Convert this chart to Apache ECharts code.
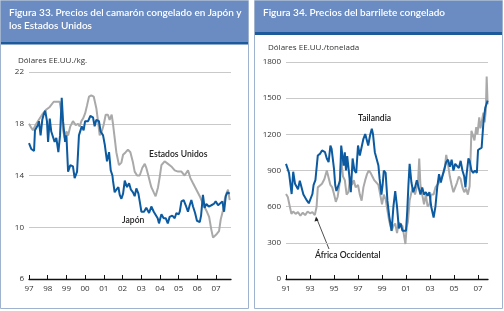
<!DOCTYPE html>
<html><head><meta charset="utf-8">
<script src="https://cdn.jsdelivr.net/npm/echarts@6/dist/echarts.min.js"></script>
<style>html,body{margin:0;padding:0;background:#fff}#c{width:504px;height:311px}</style>
</head><body><div id="c"></div>
<script>
// ---- Figure 33: shrimp prices (US$/kg), decimal year / value
const shrimpYearTicks = [1997,1998,1999,2000,2001,2002,2003,2004,2005,2006,2007];
const shrimpYTicks = [6,10,14,18,22];
const japanT = [1997.00,1997.12,1997.27,1997.32,1997.48,1997.53,1997.62,1997.71,1997.80,1997.87,1997.96,1998.02,1998.11,1998.19,1998.28,1998.37,1998.46,1998.57,1998.66,1998.75,1998.82,1998.93,1999.00,1999.09,1999.21,1999.35,1999.44,1999.57,1999.67,1999.76,1999.82,1999.92,2000.00,2000.16,2000.28,2000.42,2000.51,2000.60,2000.74,2000.83,2000.96,2001.05,2001.14,2001.17,2001.28,2001.37,2001.46,2001.49,2001.58,2001.67,2001.78,2001.85,2001.94,2002.03,2002.12,2002.24,2002.35,2002.45,2002.56,2002.65,2002.74,2002.85,2002.92,2003.01,2003.15,2003.27,2003.42,2003.54,2003.67,2003.77,2003.88,2003.95,2004.08,2004.20,2004.31,2004.42,2004.52,2004.66,2004.79,2004.88,2005.00,2005.06,2005.15,2005.27,2005.38,2005.50,2005.59,2005.68,2005.77,2005.88,2005.98,2006.13,2006.20,2006.30,2006.39,2006.48,2006.61,2006.75,2006.88,2006.98,2007.11,2007.20,2007.34,2007.43,2007.52,2007.61,2007.73];
const japanV = [16.5,16.05,15.9,17.5,17.9,18.2,17.1,18.3,18.8,19.0,18.2,16.6,18.4,17.4,17.0,16.6,16.9,15.8,17.1,20.0,18.2,16.6,17.1,14.3,14.8,14.7,13.8,14.3,17.1,17.1,17.8,17.5,18.2,18.2,18.6,18.5,17.8,18.3,18.2,17.4,17.1,16.4,16.5,15.1,15.8,14.4,14.0,13.6,12.7,12.9,13.1,12.5,12.2,12.6,13.6,13.1,13.4,12.9,12.7,12.4,13.0,12.6,12.0,11.2,11.2,11.5,11.1,11.6,11.2,11.1,10.7,10.3,11.0,10.7,10.7,10.3,10.8,10.9,10.7,11.1,11.0,11.2,12.0,12.1,11.7,11.2,11.7,12.1,11.6,11.1,10.5,10.4,10.9,12.5,11.5,11.8,11.6,11.7,11.8,12.0,11.7,11.6,12.0,11.2,12.4,12.7,12.6];
const usaT = [1997.00,1997.12,1997.21,1997.39,1997.57,1997.75,1997.93,1998.11,1998.32,1998.46,1998.64,1998.73,1998.82,1998.91,1999.00,1999.09,1999.21,1999.35,1999.50,1999.62,1999.71,1999.80,1999.89,2000.00,2000.10,2000.21,2000.33,2000.46,2000.55,2000.60,2000.69,2000.78,2000.89,2000.99,2001.10,2001.22,2001.31,2001.42,2001.49,2001.58,2001.67,2001.81,2001.94,2002.03,2002.17,2002.29,2002.42,2002.56,2002.65,2002.78,2002.92,2003.06,2003.19,2003.27,2003.38,2003.45,2003.54,2003.67,2003.77,2003.90,2003.99,2004.08,2004.25,2004.34,2004.43,2004.61,2004.79,2004.97,2005.15,2005.32,2005.50,2005.63,2005.77,2005.95,2006.13,2006.30,2006.48,2006.63,2006.75,2006.84,2006.93,2007.05,2007.16,2007.25,2007.37,2007.46,2007.55,2007.64,2007.73];
const usaV = [18.0,17.7,17.5,18.0,18.4,18.8,19.1,19.3,19.7,19.7,19.7,18.9,17.5,16.9,17.4,17.1,17.8,18.2,17.9,18.0,17.8,18.2,18.4,18.8,19.4,20.1,20.2,20.1,20.0,19.2,18.2,17.1,17.4,17.9,18.7,18.7,18.3,18.7,18.0,16.9,15.8,14.8,15.0,15.6,15.8,16.0,15.8,15.0,14.3,14.0,14.0,14.6,14.9,14.6,14.0,13.6,13.1,12.7,12.4,13.1,13.9,14.8,15.1,15.2,14.9,14.7,14.4,14.3,14.3,14.0,14.4,13.8,13.4,12.9,12.4,11.8,11.3,10.8,9.8,9.2,9.2,9.5,9.7,10.6,11.3,12.1,12.6,12.9,12.1];

// ---- Figure 34: skipjack prices (US$/tonne)
const tunaYearTicks = [1991,1993,1995,1997,1999,2001,2003,2005,2007];
const tunaYTicks = [0,300,600,900,1200,1500,1800];
const thaiT = [1991.00,1991.10,1991.25,1991.47,1991.60,1991.75,1991.90,1992.00,1992.15,1992.30,1992.45,1992.60,1992.75,1992.90,1993.05,1993.20,1993.30,1993.45,1993.55,1993.65,1993.85,1994.00,1994.10,1994.25,1994.40,1994.55,1994.70,1994.80,1994.90,1995.00,1995.10,1995.20,1995.35,1995.50,1995.60,1995.70,1995.80,1995.90,1996.00,1996.10,1996.25,1996.40,1996.55,1996.70,1996.85,1997.00,1997.15,1997.30,1997.45,1997.60,1997.75,1997.85,1998.00,1998.15,1998.25,1998.40,1998.55,1998.70,1998.80,1998.95,1999.05,1999.15,1999.30,1999.45,1999.60,1999.80,1999.95,2000.10,2000.25,2000.40,2000.55,2000.70,2000.85,2001.00,2001.10,2001.20,2001.30,2001.45,2001.60,2001.75,2001.90,2002.05,2002.20,2002.35,2002.50,2002.65,2002.80,2002.95,2003.10,2003.30,2003.45,2003.60,2003.75,2003.90,2004.05,2004.20,2004.35,2004.50,2004.65,2004.80,2004.95,2005.10,2005.25,2005.40,2005.55,2005.70,2005.85,2005.95,2006.05,2006.20,2006.30,2006.45,2006.60,2006.75,2006.90,2007.00,2007.15,2007.30,2007.45,2007.60,2007.70,2007.80];
const thaiV = [955,950,880,705,890,790,800,745,815,815,700,690,650,628,628,705,780,820,815,1025,1040,1066,1080,1052,1000,970,1107,1080,1066,914,780,730,735,815,1107,1100,940,1050,900,1020,880,720,1000,900,880,1107,1024,1024,1163,1202,1200,1107,1190,1246,1200,1052,1052,941,830,700,780,900,880,650,520,400,600,730,600,420,460,400,400,400,560,780,955,800,720,760,820,760,700,760,700,720,690,720,600,510,600,760,870,800,860,850,970,990,930,990,900,955,955,920,980,900,850,760,870,1000,980,900,880,900,880,1070,1080,1090,1300,1420,1450,1480];
const africaT = [1991.00,1991.15,1991.30,1991.45,1991.60,1991.80,1992.00,1992.20,1992.40,1992.60,1992.80,1993.00,1993.20,1993.40,1993.55,1993.65,1993.80,1994.00,1994.20,1994.40,1994.55,1994.70,1994.85,1995.00,1995.15,1995.30,1995.45,1995.60,1995.75,1995.90,1996.05,1996.20,1996.35,1996.50,1996.65,1996.80,1997.00,1997.15,1997.30,1997.45,1997.60,1997.75,1997.90,1998.05,1998.20,1998.35,1998.50,1998.70,1998.85,1999.00,1999.15,1999.30,1999.45,1999.60,1999.80,1999.95,2000.10,2000.25,2000.40,2000.55,2000.70,2000.85,2000.95,2001.05,2001.15,2001.30,2001.45,2001.60,2001.75,2001.90,2002.00,2002.10,2002.20,2002.35,2002.50,2002.65,2002.80,2002.95,2003.10,2003.30,2003.45,2003.60,2003.75,2003.90,2004.05,2004.20,2004.35,2004.50,2004.65,2004.80,2004.95,2005.10,2005.25,2005.40,2005.55,2005.70,2005.85,2006.00,2006.15,2006.30,2006.45,2006.55,2006.70,2006.85,2006.95,2007.10,2007.20,2007.30,2007.45,2007.55,2007.65,2007.72,2007.80];
const africaV = [705,680,610,540,560,540,555,525,550,530,560,545,555,530,600,760,770,790,830,900,886,780,760,705,640,680,780,990,850,820,700,720,850,780,820,760,780,700,650,760,820,870,900,880,850,820,830,780,700,620,700,660,570,480,400,440,460,380,470,470,440,440,290,430,470,650,720,760,700,760,800,1000,780,700,620,700,600,620,700,700,760,760,800,830,860,900,1030,950,850,780,720,760,800,850,830,760,720,750,700,770,1230,1200,1150,1260,1200,1340,1250,1300,1380,1300,1400,1680,1450];

const zip = (t, v) => t.map((x, i) => [x, v[i]]);
const BLUE = '#0c5aa0', GREY = '#a9a9a9';
const FONT = 'Open Sans';
const yy = v => String(v % 100).padStart(2, '0');

const chart = echarts.init(document.getElementById('c'), null, {renderer: 'canvas'});

function xAxisDef(grid, min, max, ticks) {
  return {
    type: 'value', gridIndex: grid, min: min, max: max,
    axisLine: {show: true, onZero: false, lineStyle: {color: '#111', width: 1.3}},
    axisTick: {show: true, inside: true, length: 4, customValues: ticks, lineStyle: {color: '#111'}},
    axisLabel: {customValues: ticks, formatter: yy, fontSize: 8, color: '#333', fontFamily: FONT, margin: 6},
    splitLine: {show: false}
  };
}
function yAxisDef(grid, min, max, interval) {
  return {
    type: 'value', gridIndex: grid, min: min, max: max, interval: interval,
    axisLine: {show: false}, axisTick: {show: false},
    axisLabel: {fontSize: 8, color: '#333', fontFamily: FONT, margin: 5, formatter: v => String(v)},
    splitLine: {show: true, lineStyle: {color: '#c9c9c9', width: 1}}
  };
}
const txt = (x, y, s, o) => ({type: 'text', x: x, y: y, style: Object.assign({text: s, fill: '#222', font: '600 8.6px Lato'}, o || {})});
const TITLE = {fill: '#fff', font: '600 10px Lato'};

chart.setOption({
  animation: false,
  backgroundColor: '#fff',
  grid: [
    {left: 29, top: 72, width: 202, height: 207},
    {left: 286, top: 62, width: 202, height: 217}
  ],
  xAxis: [xAxisDef(0, 1997, 2007.8, shrimpYearTicks), xAxisDef(1, 1991, 2007.83, tunaYearTicks)],
  yAxis: [yAxisDef(0, shrimpYTicks[0], shrimpYTicks[shrimpYTicks.length-1], 4), yAxisDef(1, tunaYTicks[0], tunaYTicks[tunaYTicks.length-1], 300)],
  series: [
    {type: 'line', name: 'Estados Unidos', xAxisIndex: 0, yAxisIndex: 0, data: zip(usaT, usaV), showSymbol: false, lineStyle: {color: GREY, width: 2}, z: 2},
    {type: 'line', name: 'Japón', xAxisIndex: 0, yAxisIndex: 0, data: zip(japanT, japanV), showSymbol: false, lineStyle: {color: BLUE, width: 2}, z: 3},
    {type: 'line', name: 'África Occidental', xAxisIndex: 1, yAxisIndex: 1, data: zip(africaT, africaV), showSymbol: false, lineStyle: {color: GREY, width: 2}, z: 2},
    {type: 'line', name: 'Tailandia', xAxisIndex: 1, yAxisIndex: 1, data: zip(thaiT, thaiV), showSymbol: false, lineStyle: {color: BLUE, width: 2}, z: 3}
  ],
  graphic: [
    {type: 'rect', shape: {x: 0.5, y: 0.5, width: 248, height: 308}, style: {fill: '#fff', stroke: '#9fb3cf', lineWidth: 1}, z: -10, silent: true},
    {type: 'rect', shape: {x: 1, y: 1, width: 247, height: 40.5}, style: {fill: '#6a8cc3'}, z: -9},
    {type: 'rect', shape: {x: 1, y: 41.5, width: 247, height: 3}, style: {fill: '#1c5a9c'}, z: -9},
    {type: 'rect', shape: {x: 254.5, y: 0.5, width: 248, height: 308}, style: {fill: '#fff', stroke: '#9fb3cf', lineWidth: 1}, z: -10, silent: true},
    {type: 'rect', shape: {x: 255, y: 1, width: 247, height: 30.5}, style: {fill: '#6a8cc3'}, z: -9},
    {type: 'rect', shape: {x: 255, y: 31.5, width: 247, height: 3.5}, style: {fill: '#1c5a9c'}, z: -9},
    txt(9, 8, 'Figura 33. Precios del camarón congelado en Japón y', TITLE),
    txt(9, 21, 'los Estados Unidos', TITLE),
    txt(263, 8, 'Figura 34. Precios del barrilete congelado', TITLE),
    txt(18, 57, 'Dólares EE.UU./kg.', {font: '8px "Open Sans"', fill: '#333'}),
    txt(268, 44, 'Dólares EE.UU./tonelada', {font: '8px "Open Sans"', fill: '#333'}),
    txt(149, 150, 'Estados Unidos'),
    txt(122, 216, 'Japón'),
    txt(358, 114, 'Tailandia'),
    txt(315, 251, 'África Occidental'),
    {type: 'line', shape: {x1: 329, y1: 249, x2: 316.5, y2: 218}, style: {stroke: '#222', lineWidth: 0.8}},
    {type: 'polygon', shape: {points: [[316, 216.5], [314.5, 221.5], [318.5, 220.5]]}, style: {fill: '#222'}}
  ]
});
</script></body></html>
